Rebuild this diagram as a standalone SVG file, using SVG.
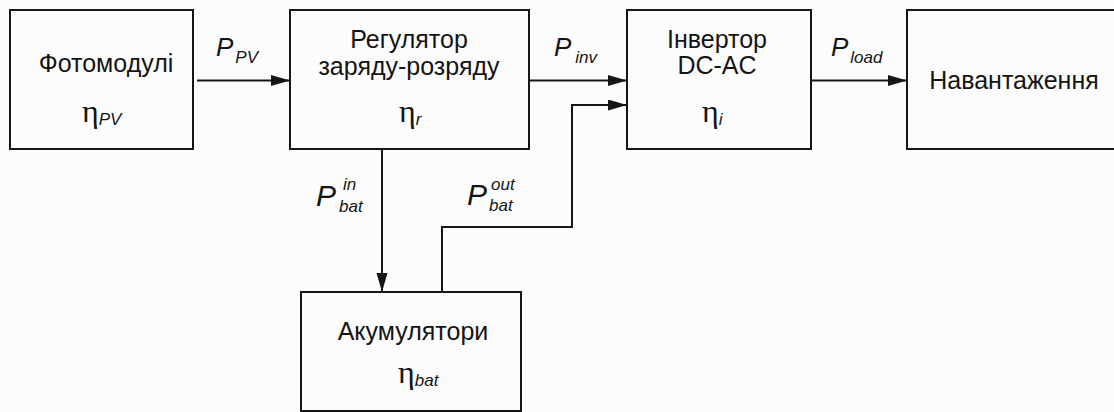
<svg xmlns="http://www.w3.org/2000/svg" width="1114" height="412" viewBox="0 0 1114 412">
  <style>
    .box { fill: none; stroke: #161616; stroke-width: 2; }
    .wire { fill: none; stroke: #161616; stroke-width: 2; }
    .lbl { font-family: "Liberation Sans", Arial, sans-serif; font-size: 25px; fill: #141414; text-anchor: middle; }
    .eta { font-family: "Liberation Serif", "Times New Roman", serif; font-size: 32px; fill: #141414; }
    .sub { font-family: "Liberation Sans", Arial, sans-serif; font-style: italic; font-size: 17px; fill: #141414; }
    .pw { font-family: "Liberation Sans", Arial, sans-serif; font-style: italic; font-size: 26px; fill: #141414; }
    .pwb { font-family: "Liberation Sans", Arial, sans-serif; font-style: italic; font-size: 30px; fill: #141414; }
    .sup { font-family: "Liberation Sans", Arial, sans-serif; font-style: italic; font-size: 17px; fill: #141414; }
  </style>
  <defs>
    <marker id="arrow" markerUnits="userSpaceOnUse" markerWidth="20" markerHeight="12" refX="19" refY="5.5" orient="auto">
      <path d="M0,0 L19,5.5 L0,11 z" fill="#161616"/>
    </marker>
  </defs>

  <rect width="1114" height="412" fill="#fcfcfc"/>

  <!-- blocks -->
  <g id="pv-modules">
    <rect class="box" x="10" y="10" width="183" height="139"/>
    <text class="lbl" x="106" y="72">Фотомодулі</text>
    <text x="82" y="122"><tspan class="eta">η</tspan><tspan class="sub" dy="3">PV</tspan></text>
  </g>

  <g id="charge-controller">
    <rect class="box" x="290" y="10" width="239" height="139"/>
    <text class="lbl" x="409" y="48">Регулятор</text>
    <text class="lbl" x="409" y="75">заряду-розряду</text>
    <text x="399" y="122"><tspan class="eta">η</tspan><tspan class="sub" dy="3">r</tspan></text>
  </g>

  <g id="inverter">
    <rect class="box" x="627" y="10" width="184" height="139"/>
    <text class="lbl" x="717" y="48">Інвертор</text>
    <text class="lbl" x="717" y="74">DC-AC</text>
    <text x="702" y="122"><tspan class="eta">η</tspan><tspan class="sub" dy="3">i</tspan></text>
  </g>

  <g id="load">
    <rect class="box" x="907" y="10" width="220" height="139"/>
    <text class="lbl" x="1014" y="89">Навантаження</text>
  </g>

  <g id="batteries">
    <rect class="box" x="301" y="292" width="220" height="119"/>
    <text class="lbl" x="413" y="340">Акумулятори</text>
    <text x="398" y="383"><tspan class="eta">η</tspan><tspan class="sub" dy="3">bat</tspan></text>
  </g>

  <!-- power flows -->
  <g id="connectors">
    <path class="wire" d="M197,80.5 H290" marker-end="url(#arrow)"/>
    <path class="wire" d="M530,80.5 H627" marker-end="url(#arrow)"/>
    <path class="wire" d="M442,292 V227 H572 V105 H627" marker-end="url(#arrow)"/>
    <path class="wire" d="M382,149 V292" marker-end="url(#arrow)"/>
    <path class="wire" d="M811,80.5 H907" marker-end="url(#arrow)"/>
  </g>

  <!-- flow labels -->
  <g id="flow-labels">
    <text x="216" y="56"><tspan class="pw">P</tspan><tspan class="sub" dy="7" dx="2">PV</tspan></text>
    <text x="554" y="56"><tspan class="pw">P</tspan><tspan class="sub" dy="7" dx="4">inv</tspan></text>
    <text x="831" y="56"><tspan class="pw">P</tspan><tspan class="sub" dy="7" dx="2">load</tspan></text>
    <text class="pwb" x="316" y="206">P</text>
    <text class="sup" x="343" y="190">in</text>
    <text class="sup" x="339" y="212">bat</text>
    <text class="pwb" x="467" y="205">P</text>
    <text class="sup" x="491" y="190">out</text>
    <text class="sup" x="489" y="211">bat</text>
  </g>
</svg>
